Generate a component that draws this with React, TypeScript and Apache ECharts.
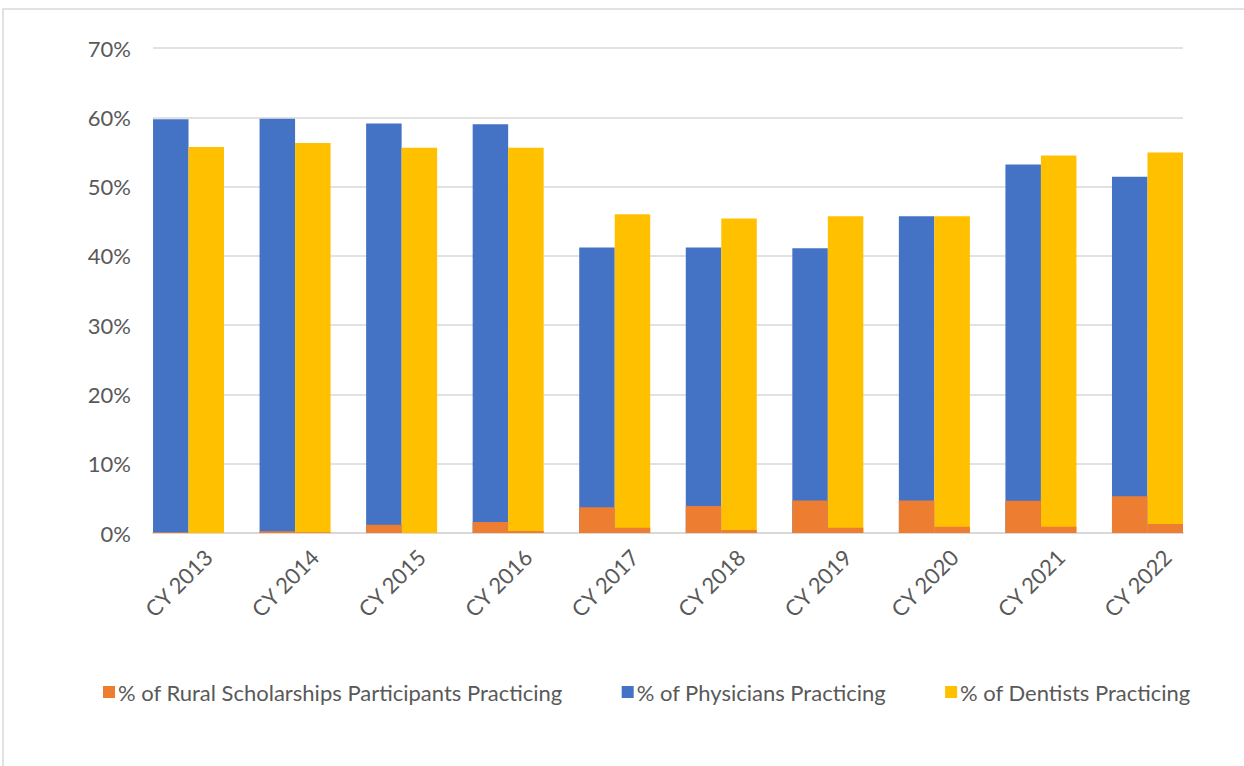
import React, { useEffect, useRef } from "react";
import * as echarts from "echarts";

const categories = ["CY 2013", "CY 2014", "CY 2015", "CY 2016", "CY 2017", "CY 2018", "CY 2019", "CY 2020", "CY 2021", "CY 2022"];
const physicians = [59.7, 59.8, 59.1, 59.0, 41.2, 41.2, 41.1, 45.7, 53.2, 51.4];
const dentists = [55.7, 56.3, 55.6, 55.6, 46.0, 45.4, 45.7, 45.7, 54.5, 54.9];
const ruralPhysicians = [0.1, 0.25, 1.2, 1.6, 3.7, 3.9, 4.7, 4.7, 4.65, 5.3];
const ruralDentists = [0.0, 0.1, 0.0, 0.3, 0.75, 0.45, 0.75, 0.9, 0.9, 1.3];
const yTicks = { min: 0, max: 70, interval: 10 };

const RURAL = "% of Rural Scholarships Participants Practicing";
const PHYS = "% of Physicians Practicing";
const DENT = "% of Dentists Practicing";

const FONT = "Lato, 'Liberation Sans', sans-serif";
const TXT = "#595959";
const FS = 22;

export default function App() {
  const ref = useRef<HTMLDivElement>(null);
  useEffect(() => {
    const chart = echarts.init(ref.current!, null, { renderer: "svg" });
    const barW = 35.5;
    const plotTop = 48;
    const plotBottom = 233;
    chart.setOption({
      animation: false,
      textStyle: { fontFamily: FONT },
      graphic: [
        {
          type: "rect",
          shape: { x: 3, y: 9, width: 1300, height: 800 },
          style: { fill: "none", stroke: "#D9D9D9", lineWidth: 1.5 },
          silent: true,
        },
      ],
      grid: [
        { left: 153, right: 61, top: plotTop, bottom: plotBottom },
        { left: 135.25, right: 43.25, top: plotTop, bottom: plotBottom },
      ],
      legend: {
        left: 98,
        top: 676,
        itemWidth: 12,
        itemHeight: 12,
        itemGap: 59,
        icon: "rect",
        textStyle: { color: TXT, fontSize: FS, fontFamily: FONT, padding: [0, 0, 0, -2] },
        data: [RURAL, PHYS, DENT],
      },
      xAxis: [
        {
          type: "value",
          gridIndex: 0,
          min: 0,
          max: 1,
          axisLabel: { show: false },
          axisTick: { show: false },
          splitLine: { show: false },
          axisLine: { show: true, onZero: false, lineStyle: { color: "#D9D9D9", width: 2 } },
        },
        {
          type: "category",
          gridIndex: 1,
          data: categories,
          axisTick: { show: false },
          axisLine: { show: false },
          axisLabel: {
            rotate: 45,
            color: TXT,
            fontSize: FS,
            fontFamily: FONT,
            margin: 40,
            padding: [0, -28, 0, 0],
          },
        },
        {
          type: "category",
          gridIndex: 1,
          data: categories,
          show: false,
        },
      ],
      yAxis: [
        {
          type: "value",
          gridIndex: 0,
          min: yTicks.min,
          max: yTicks.max,
          interval: yTicks.interval,
          axisLine: { show: false },
          axisTick: { show: false },
          axisLabel: { formatter: "{value}%", color: TXT, fontSize: FS, fontFamily: FONT, margin: 22 },
          splitLine: { lineStyle: { color: "#D9D9D9", width: 1.5 } },
        },
        {
          type: "value",
          gridIndex: 1,
          min: yTicks.min,
          max: yTicks.max,
          interval: yTicks.interval,
          show: false,
          splitLine: { show: false },
        },
      ],
      series: [
        {
          name: PHYS,
          type: "bar",
          xAxisIndex: 1,
          yAxisIndex: 1,
          data: physicians,
          barWidth: barW,
          barGap: "0%",
          itemStyle: { color: "#4472C4" },
        },
        {
          name: DENT,
          type: "bar",
          xAxisIndex: 1,
          yAxisIndex: 1,
          data: dentists,
          barWidth: barW,
          barGap: "0%",
          itemStyle: { color: "#FFC000" },
        },
        {
          name: RURAL,
          type: "bar",
          xAxisIndex: 2,
          yAxisIndex: 1,
          data: ruralPhysicians,
          barWidth: barW,
          barGap: "0%",
          itemStyle: { color: "#ED7D31" },
        },
        {
          name: RURAL,
          type: "bar",
          xAxisIndex: 2,
          yAxisIndex: 1,
          data: ruralDentists,
          barWidth: barW,
          barGap: "0%",
          itemStyle: { color: "#ED7D31" },
        },
      ],
    });
    return () => chart.dispose();
  }, []);
  return (
    <div
      ref={ref}
      style={{ position: "fixed", left: 0, top: 0, width: 1244, height: 766, background: "#fff" }}
    />
  );
}
